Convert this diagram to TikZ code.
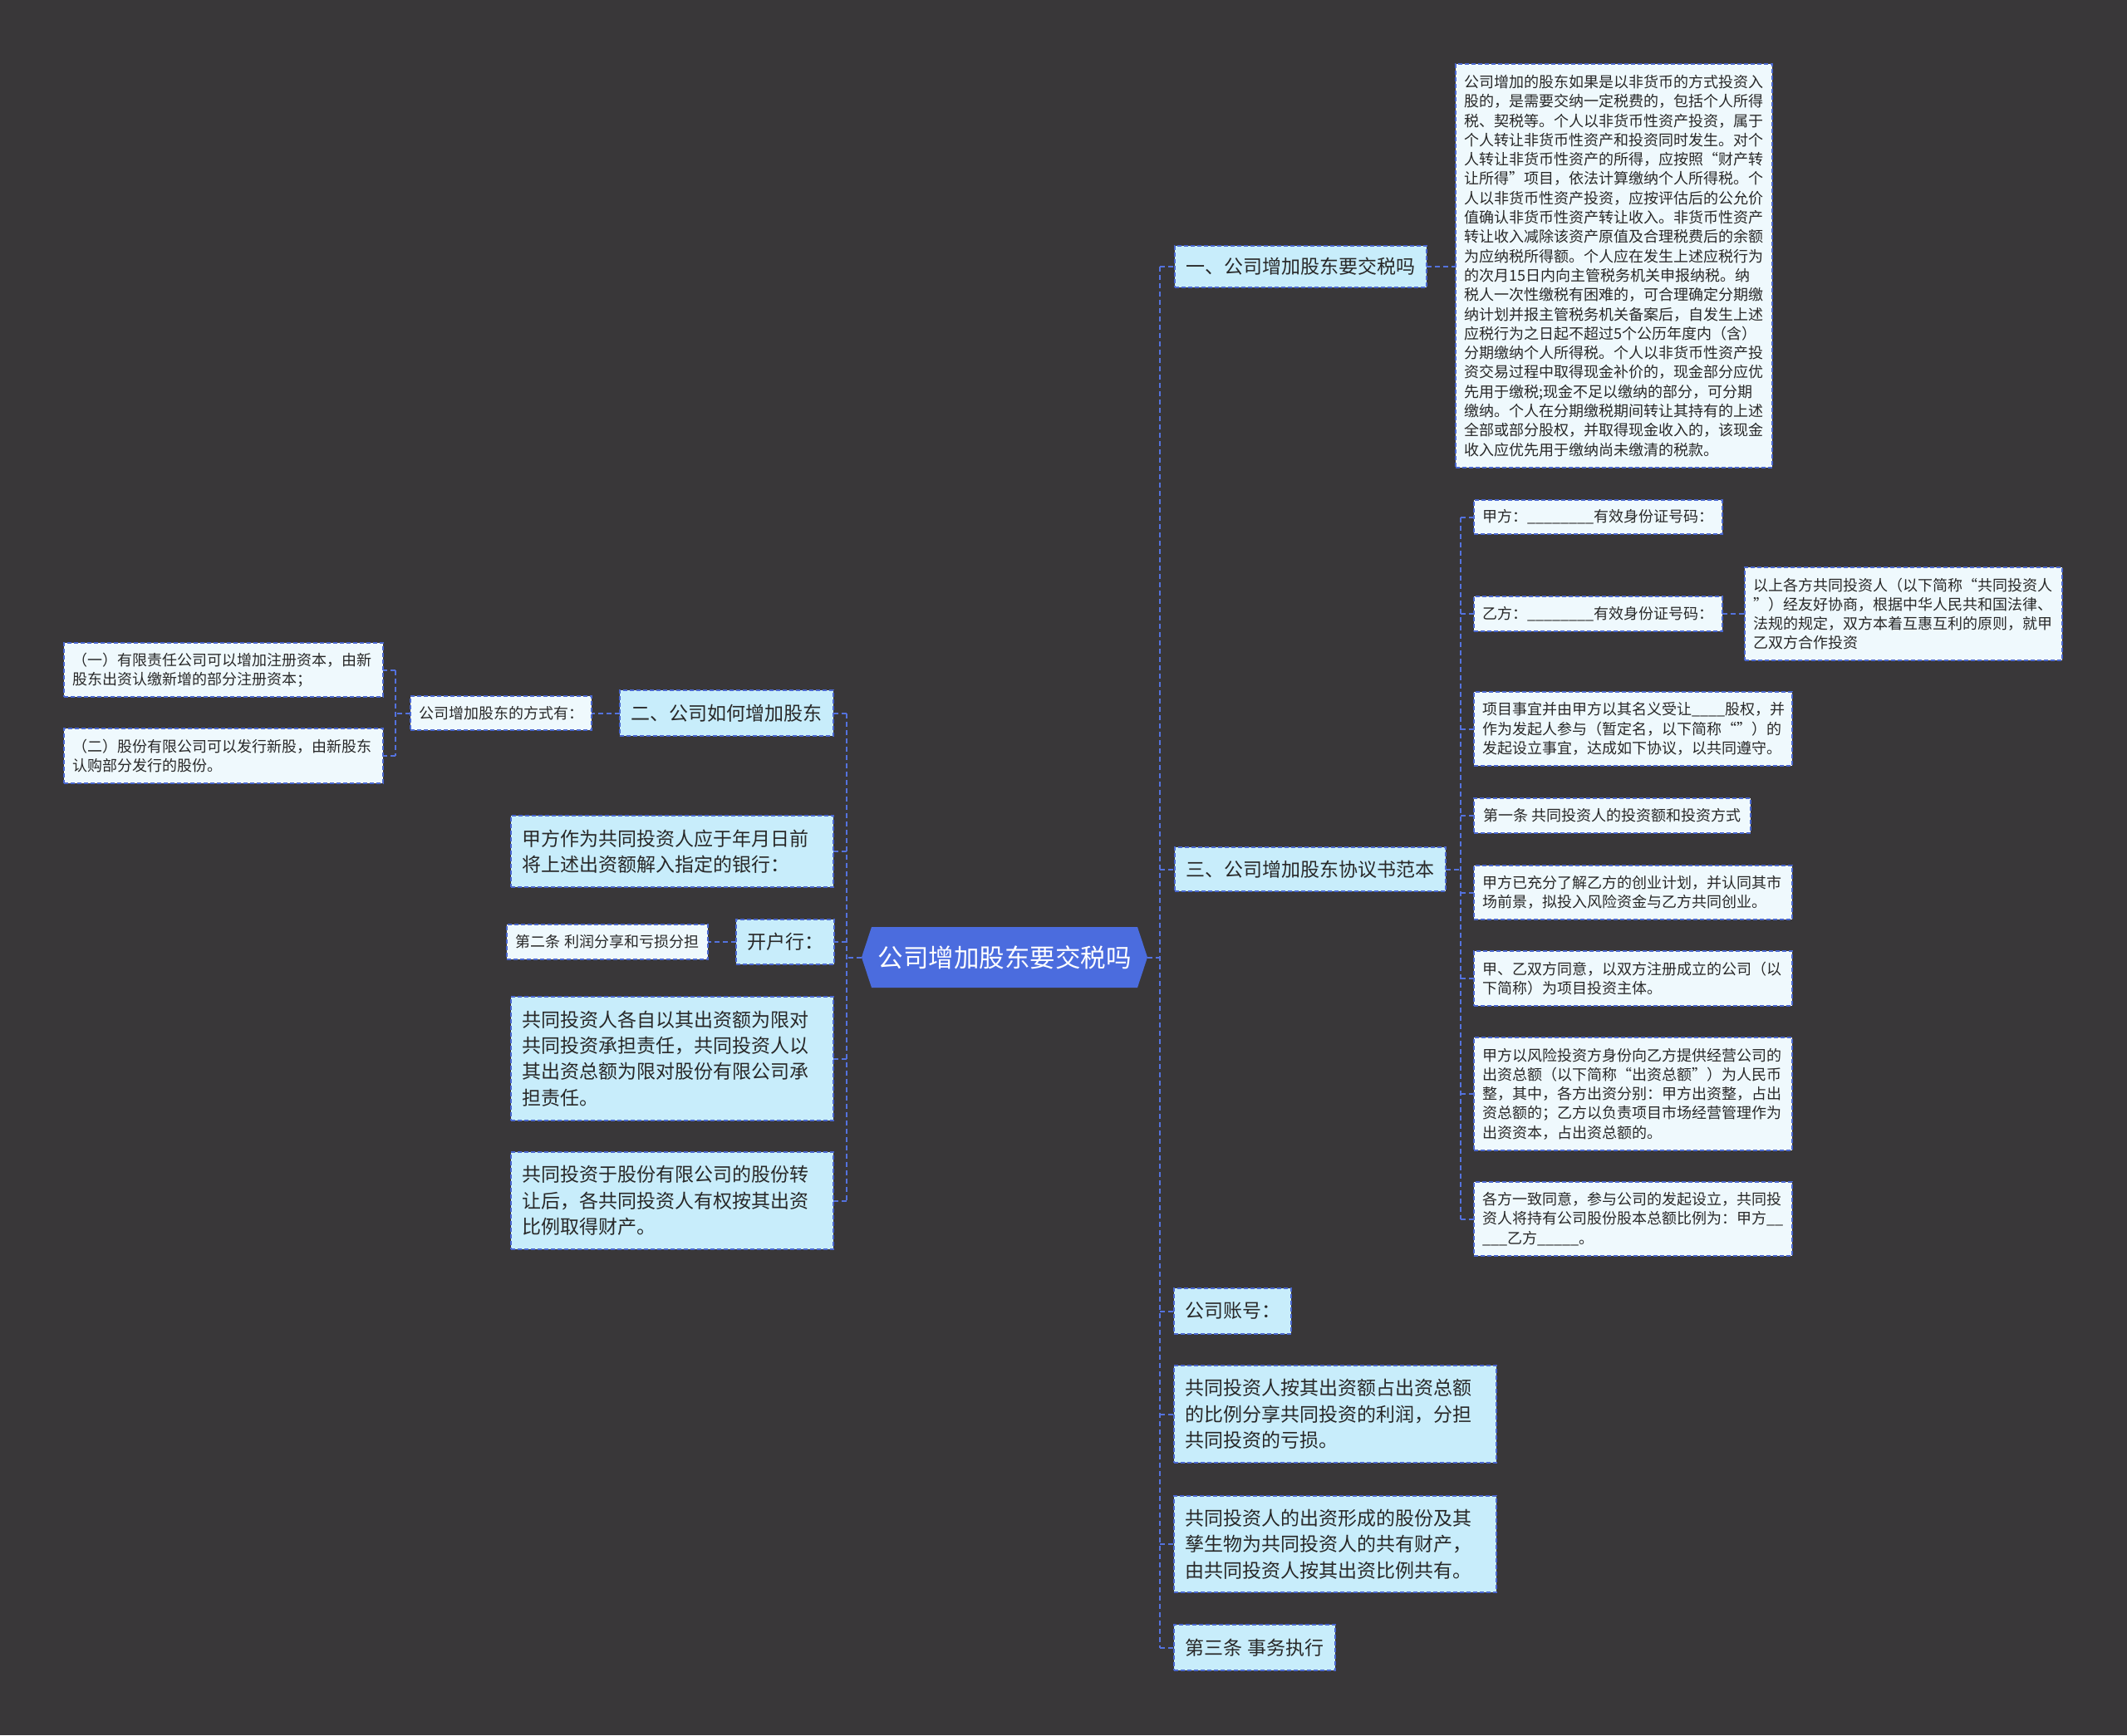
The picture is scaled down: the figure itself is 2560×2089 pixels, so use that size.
\documentclass[tikz,border=0pt]{standalone}
\usepackage{fontspec}
\setmainfont{Noto Sans CJK SC}
\definecolor{bgc}{RGB}{57,55,57}
\definecolor{lblue}{RGB}{200,237,251}
\definecolor{pale}{RGB}{239,249,253}
\definecolor{bordc}{RGB}{74,103,207}
\definecolor{connc}{RGB}{84,114,222}
\definecolor{cblue}{RGB}{75,108,222}
\definecolor{txtc}{RGB}{40,40,40}
\begin{document}
\begin{tikzpicture}[x=1pt,y=-1pt,
  bx/.style={draw=bordc, line width=2pt, dash pattern=on 5pt off 3pt, anchor=north west, inner ysep=0pt, outer sep=0pt, text=txtc},
  lt/.style={bx, fill=lblue},
  pl/.style={bx, fill=pale},
  sm/.style={font=\fontsize{18}{23.3}\selectfont, inner xsep=10pt},
  lg/.style={font=\fontsize{23}{31.3}\selectfont, inner xsep=13pt},
  conn/.style={draw=connc, line width=2pt, dash pattern=on 6pt off 4pt}]
\fill[bgc] (0,0) rectangle (2560,2089);
\useasboundingbox (0,0) rectangle (2560,2089);

% centre
\fill[cblue] (1037,1152.5) -- (1049,1116) -- (1369,1116) -- (1381,1152.5) -- (1369,1189) -- (1049,1189) -- cycle;
\node[minimum width=344, minimum height=73, inner sep=0pt, outer sep=0pt, text=white, font=\fontsize{30.5}{36}\selectfont] (center) at (1209,1152.5) {公司增加股东要交税吗};

% right level 1
\node[lt,lg,minimum width=303,minimum height=50] (r1) at (1414,296) {一、公司增加股东要交税吗};
\node[lt,lg,minimum width=326,minimum height=53] (r3) at (1414,1020) {三、公司增加股东协议书范本};
\node[lt,lg,minimum width=141,minimum height=55] (r4) at (1413,1551) {公司账号：};
\node[lt,lg,minimum width=388,minimum height=117,text width=362pt,align=left] (r5) at (1413,1644) {共同投资人按其出资额占出资总额\\的比例分享共同投资的利润，分担\\共同投资的亏损。};
\node[lt,lg,minimum width=388,minimum height=116,text width=362pt,align=left] (r6) at (1413,1801) {共同投资人的出资形成的股份及其\\孳生物为共同投资人的共有财产，\\由共同投资人按其出资比例共有。};
\node[lt,lg,minimum width=194,minimum height=55] (r7) at (1413,1956) {第三条 事务执行};

% long text
\node[pl,sm,minimum width=381,minimum height=486,text width=361pt,align=left] (r1c) at (1752,77) {公司增加的股东如果是以非货币的方式投资入\\股的，是需要交纳一定税费的，包括个人所得\\税、契税等。个人以非货币性资产投资，属于\\个人转让非货币性资产和投资同时发生。对个\\人转让非货币性资产的所得，应按照“财产转\\让所得”项目，依法计算缴纳个人所得税。个\\人以非货币性资产投资，应按评估后的公允价\\值确认非货币性资产转让收入。非货币性资产\\转让收入减除该资产原值及合理税费后的余额\\为应纳税所得额。个人应在发生上述应税行为\\的次月15日内向主管税务机关申报纳税。纳\\税人一次性缴税有困难的，可合理确定分期缴\\纳计划并报主管税务机关备案后，自发生上述\\应税行为之日起不超过5个公历年度内（含）\\分期缴纳个人所得税。个人以非货币性资产投\\资交易过程中取得现金补价的，现金部分应优\\先用于缴税;现金不足以缴纳的部分，可分期\\缴纳。个人在分期缴税期间转让其持有的上述\\全部或部分股权，并取得现金收入的，该现金\\收入应优先用于缴纳尚未缴清的税款。};

% children of 三
\node[pl,sm,minimum width=292,minimum height=41] (a1) at (1774,602) {甲方：\_\_\_\_\_\_\_\_有效身份证号码：};
\node[pl,sm,minimum width=292,minimum height=42] (a2) at (1774,718) {乙方：\_\_\_\_\_\_\_\_有效身份证号码：};
\node[pl,sm,minimum width=382,minimum height=112,text width=362pt,align=left] (a2c) at (2100,683) {以上各方共同投资人（以下简称“共同投资人\\”）经友好协商，根据中华人民共和国法律、\\法规的规定，双方本着互惠互利的原则，就甲\\乙双方合作投资};
\node[pl,sm,minimum width=383,minimum height=89,text width=363pt,align=left] (a3) at (1774,833) {项目事宜并由甲方以其名义受让\_\_\_\_股权，并\\作为发起人参与（暂定名，以下简称“”）的\\发起设立事宜，达成如下协议，以共同遵守。};
\node[pl,sm,minimum width=333,minimum height=42] (a4) at (1774,961) {第一条 共同投资人的投资额和投资方式};
\node[pl,sm,minimum width=383,minimum height=65,text width=363pt,align=left] (a5) at (1774,1042) {甲方已充分了解乙方的创业计划，并认同其市\\场前景，拟投入风险资金与乙方共同创业。};
\node[pl,sm,minimum width=383,minimum height=66,text width=363pt,align=left] (a6) at (1774,1145) {甲、乙双方同意，以双方注册成立的公司（以\\下简称）为项目投资主体。};
\node[pl,sm,minimum width=383,minimum height=136,text width=363pt,align=left] (a7) at (1774,1249) {甲方以风险投资方身份向乙方提供经营公司的\\出资总额（以下简称“出资总额”）为人民币\\整，其中，各方出资分别：甲方出资整，占出\\资总额的；乙方以负责项目市场经营管理作为\\出资资本，占出资总额的。};
\node[pl,sm,minimum width=383,minimum height=89,text width=363pt,align=left] (a8) at (1774,1423) {各方一致同意，参与公司的发起设立，共同投\\资人将持有公司股份股本总额比例为：甲方\_\_\\\_\_\_乙方\_\_\_\_\_。};

% left side
\node[lt,lg,minimum width=257,minimum height=55] (l1) at (746,831) {二、公司如何增加股东};
\node[pl,sm,minimum width=217,minimum height=41] (l1a) at (494,838) {公司增加股东的方式有：};
\node[pl,sm,minimum width=384,minimum height=65,text width=364pt,align=left] (l1a1) at (77,774) {（一）有限责任公司可以增加注册资本，由新\\股东出资认缴新增的部分注册资本；};
\node[pl,sm,minimum width=384,minimum height=66,text width=364pt,align=left] (l1a2) at (77,877) {（二）股份有限公司可以发行新股，由新股东\\认购部分发行的股份。};
\node[lt,lg,minimum width=388,minimum height=86,text width=362pt,align=left] (l2) at (615,982) {甲方作为共同投资人应于年月日前\\将上述出资额解入指定的银行：};
\node[lt,lg,minimum width=117,minimum height=54] (l3) at (886,1107) {开户行：};
\node[pl,sm,minimum width=242,minimum height=42] (l3a) at (610,1113) {第二条 利润分享和亏损分担};
\node[lt,lg,minimum width=388,minimum height=149,text width=362pt,align=left] (l4) at (615,1200) {共同投资人各自以其出资额为限对\\共同投资承担责任，共同投资人以\\其出资总额为限对股份有限公司承\\担责任。};
\node[lt,lg,minimum width=388,minimum height=117,text width=362pt,align=left] (l5) at (615,1387) {共同投资于股份有限公司的股份转\\让后，各共同投资人有权按其出资\\比例取得财产。};

% trunk x positions
\coordinate (rtx) at (1396,0);
\coordinate (ltx) at (1019,0);
\coordinate (stx) at (1758,0);
\coordinate (lsx) at (476,0);

% right trunk
\draw[conn] (r1.west -| rtx) -- (r7.west -| rtx);
\draw[conn] (center.east) -- (center.east -| rtx);
\foreach \n in {r1,r3,r4,r5,r6,r7} \draw[conn] (\n.west -| rtx) -- (\n.west);
\draw[conn] (r1.east) -- (r1.east -| r1c.west);

% 三 subtrunk
\draw[conn] (a1.west -| stx) -- (a8.west -| stx);
\draw[conn] (r3.east) -- (r3.east -| stx);
\foreach \n in {a1,a2,a3,a4,a5,a6,a7,a8} \draw[conn] (\n.west -| stx) -- (\n.west);
\draw[conn] (a2.east) -- (a2.east -| a2c.west);

% left trunk
\draw[conn] (l1.east -| ltx) -- (l5.east -| ltx);
\draw[conn] (center.west) -- (center.west -| ltx);
\foreach \n in {l1,l2,l3,l4,l5} \draw[conn] (\n.east -| ltx) -- (\n.east);
\draw[conn] (l1.west) -- (l1.west -| l1a.east);
\draw[conn] (l3.west) -- (l3.west -| l3a.east);

% left subtrunk
\draw[conn] (l1a1.east -| lsx) -- (l1a2.east -| lsx);
\draw[conn] (l1a.west) -- (l1a.west -| lsx);
\foreach \n in {l1a1,l1a2} \draw[conn] (\n.east -| lsx) -- (\n.east);
\end{tikzpicture}
\end{document}
